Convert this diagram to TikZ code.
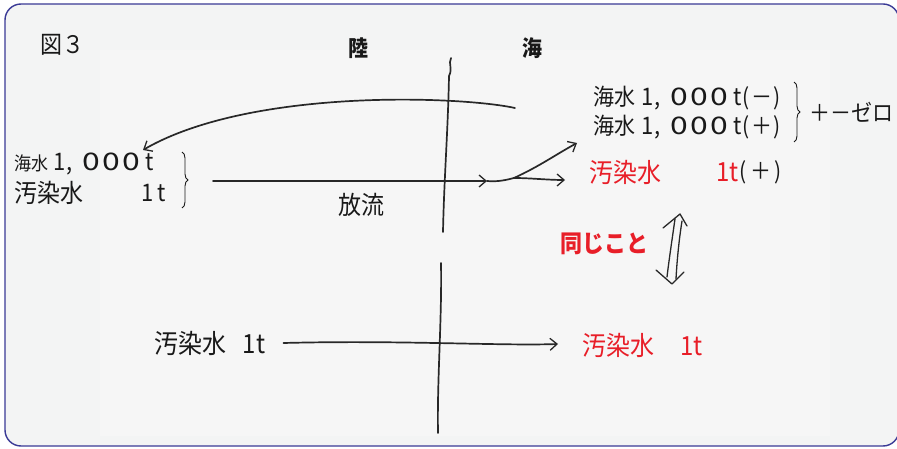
\documentclass[tikz,border=0pt]{standalone}
\usepackage{fontspec}
\setmainfont{Noto Sans CJK JP}
\usetikzlibrary{arrows.meta,decorations.pathreplacing}
\definecolor{frameblue}{RGB}{58,58,150}
\definecolor{bgfill}{RGB}{243,244,244}
\definecolor{scanfill}{RGB}{246,246,246}
\definecolor{inkred}{RGB}{232,30,40}
\definecolor{ink}{RGB}{40,40,40}
\definecolor{txtcol}{RGB}{25,25,25}
\newcommand{\fs}[1]{\fontsize{#1}{#1}\selectfont}
\newcommand{\tall}[1]{\scalebox{1}[1.1]{#1}}
\newcommand{\wz}{\scalebox{1.45}[1]{0}}
\newcommand{\thousand}{{\fs{22}1\kern1pt,\kern10pt\wz\kern2.5pt\wz\kern2.5pt\wz\kern5pt t}}
\begin{document}
\begin{tikzpicture}[x=1pt,y=-1pt,
  txt/.style={inner sep=0pt, text=txtcol, font=\fs{20}},
  redtxt/.style={txt, text=inkred},
  hand/.style={draw=ink, line width=1.7pt, line cap=round, line join=round},
  barb/.style={-{Straight Barb[length=7pt,width=12pt,line width=1.3pt]}},
  brc/.style={draw=txtcol, line width=0.9pt, decorate, decoration={brace, amplitude=6pt}}
]
\useasboundingbox (0,0) rectangle (897,449);
\fill[white] (0,0) rectangle (897,449);
\draw[frameblue, line width=1.4pt, fill=bgfill, rounded corners=16pt] (5,4) rectangle (899,446);
\fill[scanfill] (100,50) rectangle (830,436);

% titles
\node[txt, font=\fs{22}] (fig) at (62,45) {\tall{図３}};
\node[txt, font=\bfseries\fs{20}] (land) at (358,48) {\tall{陸}};
\node[txt, font=\bfseries\fs{20}] (sea) at (532,48) {\tall{海}};

% left texts
\node[txt, anchor=west] (lsea) at (14,164) {\tall{\fs{17}海水\kern5pt\thousand}};
\node[txt, anchor=west, font=\fs{23}] (lpol) at (14,193) {\tall{汚染水}};
\node[txt, anchor=east] (lpolt) at (166,193) {\tall{\fs{22}1\kern4pt t}};
\draw[brc] (182,152) -- (182,208);
\coordinate (ltip) at (192,181);

% right texts
\node[txt, anchor=west] (rs1) at (593,98) {\tall{\fs{21}海水\kern6pt\thousand\fs{21}\kern1pt(\kern1pt－\kern1pt)}};
\node[txt, anchor=west] (rs2) at (593,127) {\tall{\fs{21}海水\kern6pt\thousand\fs{21}\kern1pt(\kern1pt＋\kern1pt)}};
\draw[brc] (794,82) -- (794,142);
\node[txt, anchor=west, font=\fs{21}] (pmz) at (809,112) {\tall{＋－ゼロ}};
\node[redtxt, anchor=west, font=\fs{24}] (rp) at (589,172) {\tall{汚染水}};
\node[redtxt, anchor=west, font=\fs{24}] (rpt) at (716,172) {\tall{1t}};
\node[txt, anchor=west, font=\fs{21}] (rpp) at (rpt.east) {\tall{\kern1pt(\kern3pt＋\kern3pt)}};

\node[txt, font=\fs{23}] (flow) at (361,205) {\tall{放流}};
\node[redtxt, font=\bfseries\fs{22}] (same) at (604,244) {\tall{同じこと}};

% bottom texts
\node[txt, anchor=west, font=\fs{24}] (bpol) at (154,343) {\tall{汚染水\hspace{0.7em}1t}};
\node[redtxt, anchor=west, font=\fs{24}] (rbpol) at (582,345) {\tall{汚染水\hspace{1.1em}1t}};

% boundary line (hand drawn)
\coordinate (vt) at (451,58);
\coordinate (vm) at (443,232);
\coordinate (vb1) at (441,263);
\coordinate (vb2) at (438,433);
\draw[hand] (vt) .. controls (448,64) and (453,68) .. (449,76)
  .. controls (448,130) and (444,180) .. (vm);
\draw[hand] (vb1) .. controls (442,320) and (437,380) .. (vb2);

% return curve
\coordinate (cstart) at (515,108);
\coordinate (cend) at (143,150);
\draw[hand, barb] (cstart) .. controls (460,96) and (250,88) .. (cend);

% discharge arrow
\coordinate (a2) at (487,181);
\coordinate (fork) at (514,178);
\coordinate (up) at (577,143);
\coordinate (fw) at (565,180);
\draw[hand, barb] ([xshift=21pt]ltip) -- (a2);
\draw[hand] (a2) .. controls (498,182) and (506,180) .. (fork);
\draw[hand, barb] (fork) .. controls (540,166) and (555,155) .. (up);
\draw[hand, barb] (fork) .. controls (530,178) and (548,180) .. (fw);

% equivalence arrow (hand drawn double arrow)
\coordinate (dtop) at (680,214);
\coordinate (dbot) at (672,284);
\draw[hand, line width=1.3pt] (663,228) -- (dtop) -- (687,226);
\draw[hand, line width=1.3pt] (656,270) -- (dbot) -- (684,272);
\draw[hand, line width=1.3pt] (675,219) .. controls (672,240) and (669,260) .. (667,277);
\draw[hand, line width=1.3pt] (682,221) .. controls (679,240) and (677,260) .. (676,279);

% bottom arrow
\coordinate (b2) at (558,344);
\draw[hand, barb] ([xshift=18pt]bpol.east) .. controls (400,340) and (500,346) .. (b2);
\end{tikzpicture}
\end{document}
